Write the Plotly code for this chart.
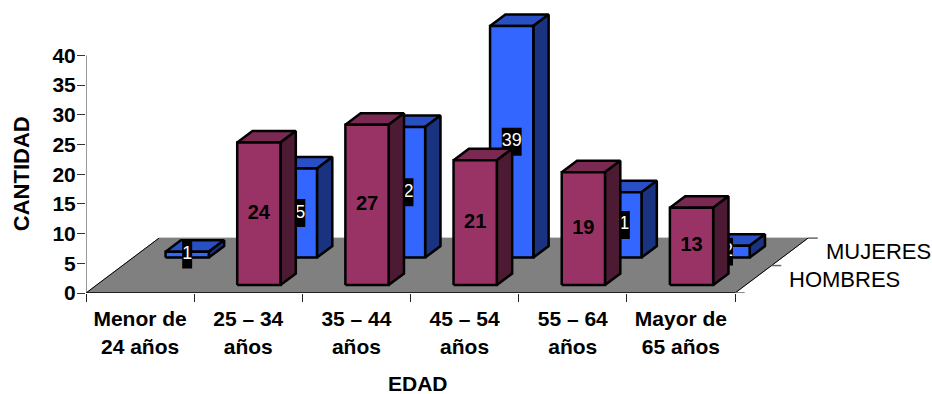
import plotly.graph_objects as go

# Survey counts per age bracket
categories = ["Menor de<br>24 años", "25 – 34<br>años", "35 – 44<br>años",
              "45 – 54<br>años", "55 – 64<br>años", "Mayor de<br>65 años"]
hombres = [None, 24, 27, 21, 19, 13]
mujeres = [1, 15, 22, 39, 11, 2]
y_ticks = [0, 5, 10, 15, 20, 25, 30, 35, 40]

FONT = "Liberation Sans"

# Plot area is wider and taller than the axes so the 3D depth has room to draw
WIDTH, HEIGHT = 932, 394
LEFT, BOTTOM = 86, 100.5
PX_PER_CATEGORY = 108.17
PX_PER_UNIT = 5.95
X_MAX = (WIDTH - LEFT) / PX_PER_CATEGORY
Y_MAX = (HEIGHT - BOTTOM) / PX_PER_UNIT

# Oblique projection: a unit of depth shifts a point right and up in data units
DEPTH_X = 0.675
DEPTH_Y = 9.24
BAR_X = (0.30, 0.70)
ROW_DEPTH = {"hombres": (0.145, 0.355), "mujeres": (0.645, 0.855)}


def project(x, depth, value):
    return x + depth * DEPTH_X, value + depth * DEPTH_Y


def polygons(faces):
    """Join faces into one path, separated by gaps."""
    xs, ys = [], []
    for face in faces:
        pts = [project(*p) for p in face]
        pts.append(pts[0])
        xs += [p[0] for p in pts] + [None]
        ys += [p[1] for p in pts] + [None]
    return xs, ys


def poly_trace(faces, fill, line="#000000", width=2.5):
    xs, ys = polygons(faces)
    return go.Scatter(x=xs, y=ys, mode="lines", fill="toself", fillcolor=fill,
                      line=dict(color=line, width=width, simplify=False),
                      cliponaxis=False, hoverinfo="skip", showlegend=False)


def segment_trace(segments, color, width=1):
    xs, ys = [], []
    for a, b in segments:
        pa, pb = project(*a), project(*b)
        xs += [pa[0], pb[0], None]
        ys += [pa[1], pb[1], None]
    return go.Scatter(x=xs, y=ys, mode="lines", line=dict(color=color, width=width),
                      cliponaxis=False, hoverinfo="skip", showlegend=False)


def bar_traces(values, row, front, top, side):
    d0, d1 = ROW_DEPTH[row]
    x0, x1 = BAR_X
    fronts, tops, sides = [], [], []
    for i, v in enumerate(values):
        if v is None:
            continue
        a, b = i + x0, i + x1
        fronts.append([(a, d0, 0), (b, d0, 0), (b, d0, v), (a, d0, v)])
        tops.append([(a, d0, v), (b, d0, v), (b, d1, v), (a, d1, v)])
        sides.append([(b, d0, 0), (b, d1, 0), (b, d1, v), (b, d0, v)])
    return [poly_trace(tops, top), poly_trace(sides, side), poly_trace(fronts, front)]


def label_points(values, row):
    d0 = ROW_DEPTH[row][0]
    mid = sum(BAR_X) / 2
    return [(i + mid, d0, v) for i, v in enumerate(values) if v is not None]


fig = go.Figure()

# Floor of the 3D plot
fig.add_trace(poly_trace([[(0, 0, 0), (6, 0, 0), (6, 1, 0), (0, 1, 0)]], "#808080",
                         line="#808080", width=1))
fig.add_trace(segment_trace([((0, 0, 0), (0, 1, 0)), ((6, 0, 0), (6, 1, 0))], "#000000", 1))
fig.add_trace(segment_trace([((6, d, 0), (6.09, d, 0)) for d in (0, 0.5, 1)], "#666666", 1.5))

# Value and category axis lines
fig.add_trace(segment_trace([((0, 0, 0), (0, 0, 40))], "#333333", 1))
fig.add_trace(segment_trace([((0, 0, 0), (6, 0, 0))], "#222222", 2))

# Back row: women, with black-boxed value labels that the front row hides in part
for t in bar_traces(mujeres, "mujeres", "#3366FF", "#2850C4", "#1A3380"):
    fig.add_trace(t)

pts = label_points(mujeres, "mujeres")
boxes = []
for (x, d, v) in pts:
    half_w = 0.046 * len(str(v))
    half_h = 2.35
    boxes.append([(x - half_w, d, v / 2 - half_h), (x + half_w, d, v / 2 - half_h),
                  (x + half_w, d, v / 2 + half_h), (x - half_w, d, v / 2 + half_h)])
fig.add_trace(poly_trace(boxes, "#000000", line="#000000", width=0))
fig.add_trace(go.Scatter(
    x=[project(x, d, v / 2)[0] for x, d, v in pts],
    y=[project(x, d, v / 2)[1] for x, d, v in pts],
    text=[str(v) for _, _, v in pts], mode="text", textposition="middle center",
    textfont=dict(family=FONT, size=18, color="#FFFFFF"),
    cliponaxis=False, hoverinfo="skip", showlegend=False))

# Front row: men
for t in bar_traces(hombres, "hombres", "#993366", "#7A2952", "#4D1A33"):
    fig.add_trace(t)

pts = label_points(hombres, "hombres")
fig.add_trace(go.Scatter(
    x=[project(x, d, v / 2)[0] for x, d, v in pts],
    y=[project(x, d, v / 2)[1] for x, d, v in pts],
    text=[str(v) for _, _, v in pts], mode="text", textposition="middle center",
    textfont=dict(family=FONT, size=20, color="#000000", weight=700),
    cliponaxis=False, hoverinfo="skip", showlegend=False))

# Depth-axis names
for name, depth, shift in (("MUJERES", 0.75, 34), ("HOMBRES", 0.25, 34)):
    x, y = project(6, depth, 0)
    fig.add_annotation(x=x, y=y, xref="x", yref="y", text=name, showarrow=False,
                       xanchor="left", yanchor="middle", xshift=shift,
                       font=dict(family=FONT, size=22, color="#000000"))

bold = dict(family=FONT, size=21, color="#000000", weight=700)
bold_large = dict(family=FONT, size=22, color="#000000", weight=700)

# Axis titles
fig.add_annotation(x=3, y=0, xref="x", yref="y", text="EDAD", showarrow=False, height=20,
                   xanchor="center", yanchor="middle", xshift=7, yshift=-90, font=bold)
fig.add_annotation(x=0, y=20, xref="x", yref="y", text="CANTIDAD", showarrow=False,
                   textangle=-90, xanchor="center", yanchor="middle", xshift=-65,
                   font=bold_large)

fig.update_layout(
    width=WIDTH, height=HEIGHT, autosize=False,
    margin=dict(l=LEFT, r=0, t=0, b=BOTTOM),
    paper_bgcolor="#FFFFFF", plot_bgcolor="#FFFFFF",
    showlegend=False,
    xaxis=dict(
        range=[0, X_MAX], tickmode="array", tickvals=[i + 0.5 for i in range(6)],
        ticktext=categories, ticks="outside", ticklen=7, tickcolor="rgba(0,0,0,0)",
        tickfont=bold, showgrid=False, zeroline=False, showline=False,
        minor=dict(tickmode="array", tickvals=list(range(7)), ticks="outside",
                   ticklen=8, tickwidth=1, tickcolor="#222222", showgrid=False),
    ),
    yaxis=dict(
        range=[0, Y_MAX], tickmode="array", tickvals=y_ticks, ticks="outside", ticklen=8,
        tickwidth=1, tickcolor="#333333", tickfont=bold, ticklabelstandoff=-3,
        showgrid=False, zeroline=False, showline=False,
    ),
)

fig.write_html("out.html")
